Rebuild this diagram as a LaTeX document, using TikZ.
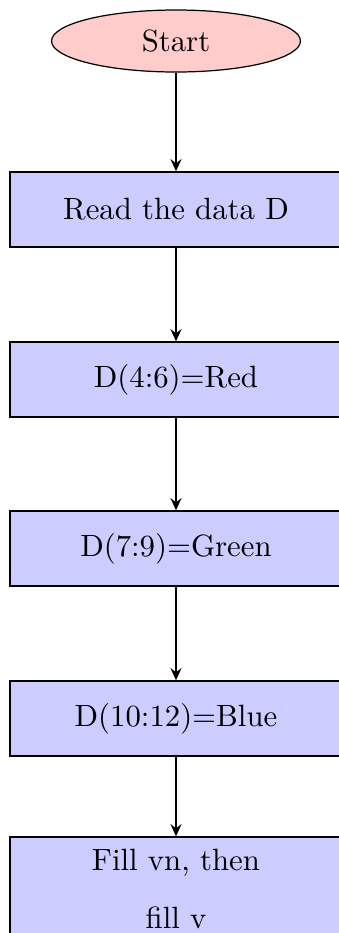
\documentclass[tikz,border=0pt]{standalone}
\usetikzlibrary{shapes.geometric,arrows.meta}
\definecolor{startfill}{RGB}{255,204,204}
\definecolor{boxfill}{RGB}{204,204,255}
\begin{document}
\begin{tikzpicture}[x=0.325pt,y=-0.325pt,
  startnode/.style={ellipse,draw,fill=startfill,line width=0.4pt,minimum width=80.9pt,minimum height=20.15pt,inner sep=0pt},
  procbox/.style={rectangle,draw,fill=boxfill,line width=0.4pt,minimum width=107.9pt,minimum height=24.4pt,inner sep=0pt,align=center},
  flowarrow/.style={-{Stealth[length=4pt,width=3.6pt,inset=1.4pt]},line width=0.6pt}]
\clip (0,0) rectangle (339,933);
\node[startnode] (start) at (176,41) {Start};
\node[procbox] (read) at (176,209.5) {Read the data D};
\node[procbox] (red) at (176,379.5) {D(4:6)=Red};
\node[procbox] (green) at (176,548.5) {D(7:9)=Green};
\node[procbox] (blue) at (176,718.5) {D(10:12)=Blue};
\node[procbox,minimum height=33.5pt] (fill) at (176,888.5) {Fill vn, then\\[6.85pt]fill v};
\draw[flowarrow] (start) -- (read);
\draw[flowarrow] (read) -- (red);
\draw[flowarrow] (red) -- (green);
\draw[flowarrow] (green) -- (blue);
\draw[flowarrow] (blue) -- (fill);
\end{tikzpicture}
\end{document}
